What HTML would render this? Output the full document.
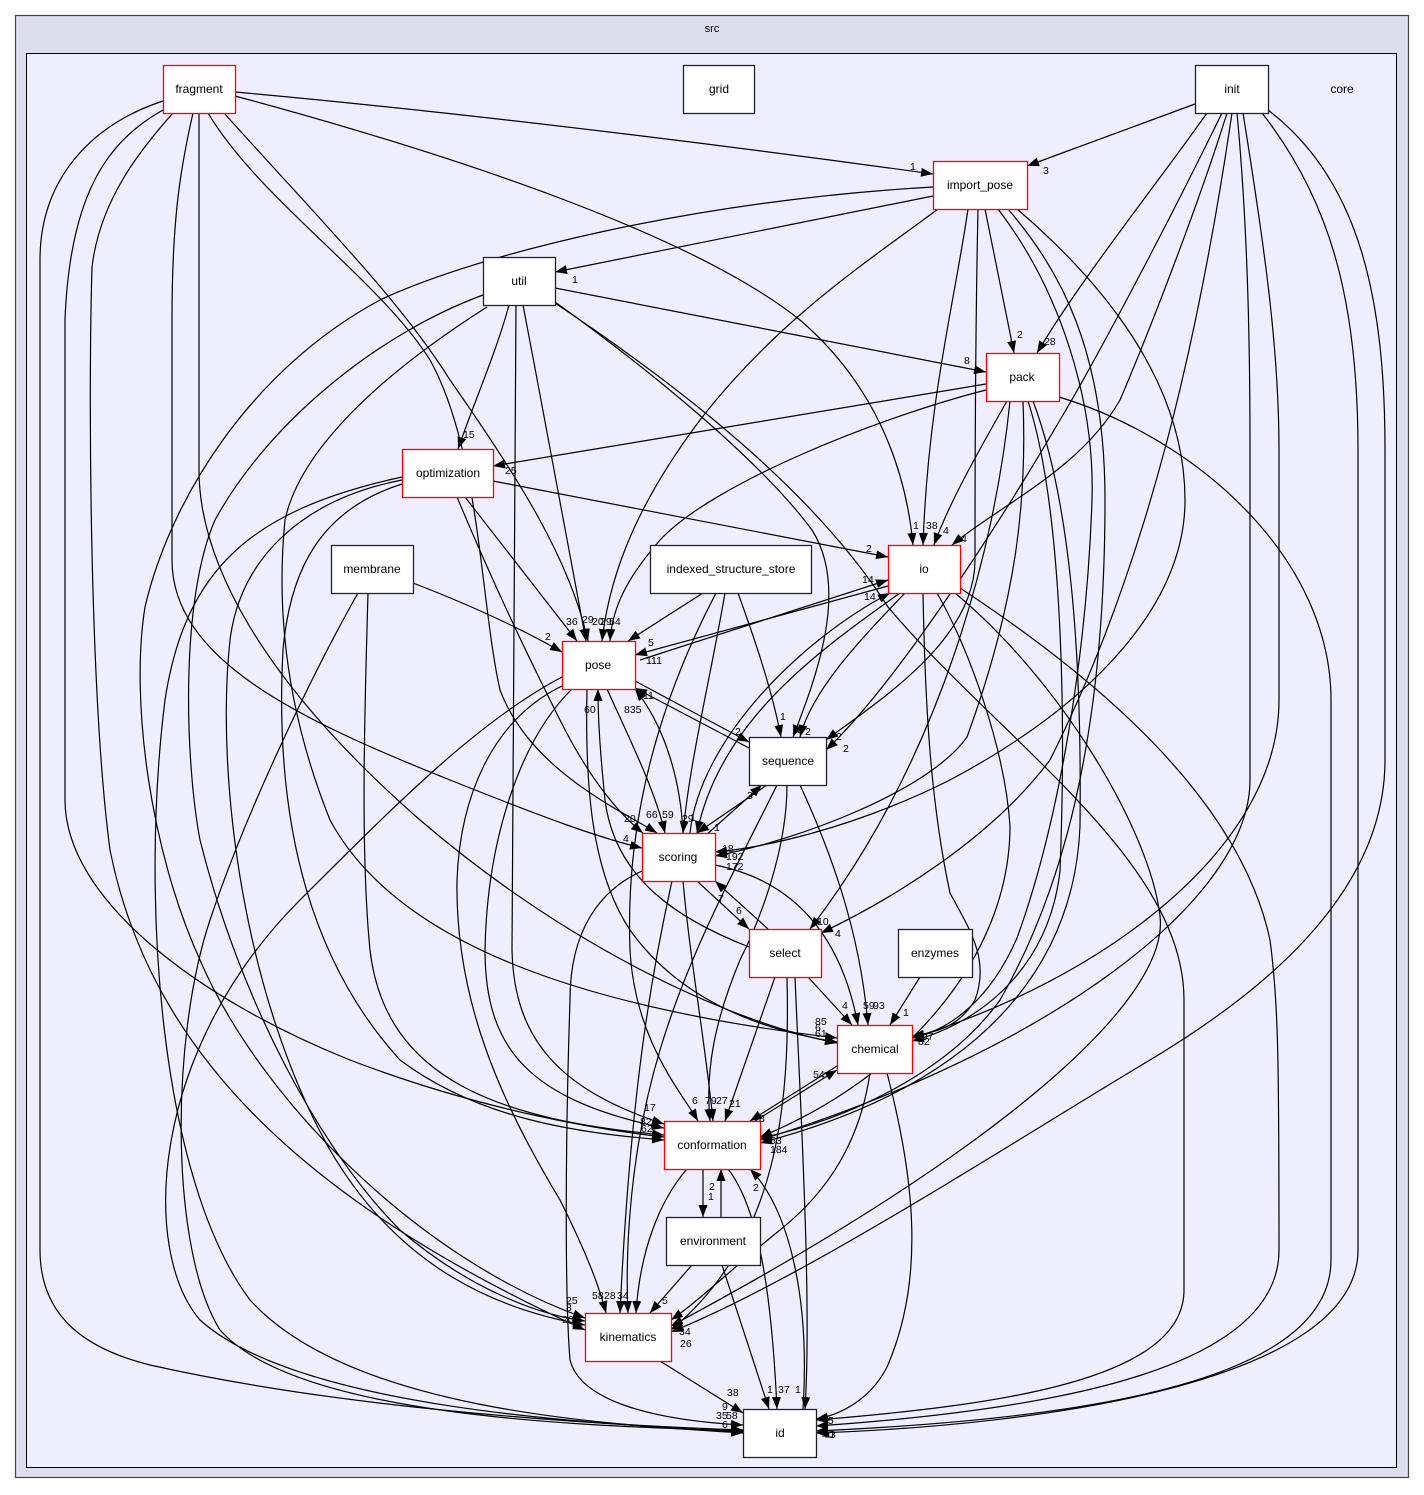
<!DOCTYPE html>
<html><head><meta charset="utf-8"><style>
html,body{margin:0;padding:0;background:#fff;}
svg{display:block;}
.e{fill:none;stroke:#000;stroke-width:1.2;marker-end:url(#a);}
.n{font-family:"Liberation Sans",Arial,sans-serif;font-size:12px;text-anchor:middle;}
.l{font-family:"Liberation Sans",Arial,sans-serif;font-size:10.5px;}
</style></head><body>
<svg width="1424" height="1495" viewBox="0 0 1424 1495" xmlns="http://www.w3.org/2000/svg">
<defs><marker id="a" markerWidth="13" markerHeight="11" refX="12" refY="5" orient="auto" markerUnits="userSpaceOnUse"><path d="M0,0.5 L12,5 L0,9.5 z" fill="#000"/></marker></defs>
<rect x="15.5" y="15.5" width="1393" height="1462" fill="#ddddee" stroke="#444" stroke-width="1.2"/>
<text class="n" x="712" y="32" style="font-size:11px">src</text>
<rect x="26.5" y="53.5" width="1370" height="1414" fill="#eeeeff" stroke="#000" stroke-width="1"/>
<text class="n" x="1342" y="93">core</text>
<g>
<path class="e" d="M235,92 C480,114 760,150 933,174"/>
<path class="e" d="M1195,104 L1027,166"/>
<path class="e" d="M933,196 L555,272"/>
<path class="e" d="M985,209 L1014,353"/>
<path class="e" d="M1207,113 C1160,180 1080,280 1037,353"/>
<path class="e" d="M555,288 L986,372"/>
<path class="e" d="M509,305 C497,350 475,400 458,449"/>
<path class="e" d="M986,384 L493,466"/>
<path class="e" d="M493,481 L888,557"/>
<path class="e" d="M235,96 C480,162 700,240 800,320 C870,380 905,460 913,545"/>
<path class="e" d="M968,209 C955,300 928,400 923,545"/>
<path class="e" d="M1007,401 C985,440 950,500 934,545"/>
<path class="e" d="M1227,113 C1200,200 1150,330 1120,400 C1080,470 1000,505 952,545"/>
<path class="e" d="M640,660 L888,580"/>
<path class="e" d="M888,586 L635,655"/>
<path class="e" d="M690,833 C700,740 800,640 890,593"/>
<path class="e" d="M905,593 C860,640 812,690 800,737"/>
<path class="e" d="M555,302 C650,370 760,460 812,530 C850,590 815,680 793,737"/>
<path class="e" d="M978,209 C976,300 975,420 975,560 C975,640 880,700 826,740"/>
<path class="e" d="M1222,113 C1160,240 1090,370 1060,420 C990,540 890,690 826,750"/>
<path class="e" d="M703,593 L628,641"/>
<path class="e" d="M738,593 C755,640 772,690 781,737"/>
<path class="e" d="M725,593 C710,680 690,760 683,833"/>
<path class="e" d="M716,593 C660,700 625,820 630,950 C635,1040 680,1090 698,1121"/>
<path class="e" d="M413,583 C470,605 520,628 562,652"/>
<path class="e" d="M358,593 C320,660 250,800 210,920 C170,1040 170,1250 220,1330 C300,1420 600,1426 743,1431"/>
<path class="e" d="M368,593 C365,700 360,850 370,950 C385,1080 500,1120 664,1135"/>
<path class="e" d="M465,497 L577,641"/>
<path class="e" d="M457,497 C500,600 540,680 560,720 C590,780 620,815 643,833"/>
<path class="e" d="M402,480 C300,500 240,560 230,640 C215,780 245,1000 330,1150 C400,1270 500,1310 585,1325"/>
<path class="e" d="M402,484 C320,510 290,570 283,650 C275,800 300,950 400,1060 C480,1120 580,1133 664,1140"/>
<path class="e" d="M402,477 C250,510 185,570 165,700 C140,900 160,1180 250,1300 C350,1410 600,1424 743,1433"/>
<path class="e" d="M523,305 C545,420 567,540 586,641"/>
<path class="e" d="M516,305 L512,950 C514,1040 560,1090 664,1124"/>
<path class="e" d="M483,295 C380,333 270,420 215,520 C180,600 185,760 200,840 C240,1000 320,1150 400,1230 C470,1290 540,1315 585,1321"/>
<path class="e" d="M487,307 C380,375 300,450 285,520 C275,620 290,720 330,820 C400,950 600,1010 837,1038"/>
<path class="e" d="M555,303 C700,400 820,500 888,607 C1000,740 1184,860 1184,1000 L1184,1290 C1184,1380 1000,1405 816,1420"/>
<path class="e" d="M938,209 C870,260 780,317 700,420 C640,500 610,570 602,641"/>
<path class="e" d="M933,187 C700,200 480,253 380,300 C250,370 170,500 145,607 C130,700 150,850 200,960 C260,1100 420,1260 585,1318"/>
<path class="e" d="M998,209 C1060,290 1095,400 1092,500 C1087,650 1060,820 1017,938 C990,1000 950,1030 912,1038"/>
<path class="e" d="M1008,209 C1060,270 1105,350 1105,500 C1105,700 1075,870 1000,1000 C950,1070 850,1120 760,1138"/>
<path class="e" d="M1017,209 C1100,280 1185,380 1185,500 C1185,600 1100,700 950,780 C850,830 760,848 715,852"/>
<path class="e" d="M986,390 C880,417 713,483 660,540 C625,580 612,610 610,641"/>
<path class="e" d="M1010,401 C995,550 940,760 810,929"/>
<path class="e" d="M1023,401 C1027,500 1017,600 967,737 C930,790 800,840 715,856"/>
<path class="e" d="M1028,401 C1060,500 1067,692 1060,871 C1050,960 990,1020 912,1041"/>
<path class="e" d="M1033,401 C1070,500 1082,650 1080,826 C1075,950 1000,1080 760,1143"/>
<path class="e" d="M1232,113 C1200,330 1150,560 1050,760 C990,840 890,900 821,933"/>
<path class="e" d="M224,113 C320,220 400,300 450,380 C520,480 570,560 588,641"/>
<path class="e" d="M193,113 C180,170 172,220 172,320 L172,560 C172,660 300,720 450,780 C550,820 600,838 642,848"/>
<path class="e" d="M208,113 C260,200 380,280 430,360 C480,450 480,600 500,690 C530,770 620,810 657,833"/>
<path class="e" d="M199,113 L199,470 C199,560 260,680 420,820 C560,940 720,1020 837,1043"/>
<path class="e" d="M173,113 C140,150 100,200 92,267 C88,400 90,700 110,850 C150,1050 300,1200 585,1330"/>
<path class="e" d="M163,110 C110,140 70,190 65,320 L65,800 C65,900 200,1000 350,1060 C480,1110 600,1130 664,1137"/>
<path class="e" d="M163,101 C90,125 40,180 40,260 L40,1250 C40,1320 90,1350 150,1365 C350,1410 600,1425 743,1430"/>
<path class="e" d="M635,681 L749,742"/>
<path class="e" d="M749,748 L635,688"/>
<path class="e" d="M607,689 C630,740 655,790 665,833"/>
<path class="e" d="M683,833 C680,770 660,720 635,689"/>
<path class="e" d="M749,947 C680,920 615,880 605,800 C600,750 598,720 598,689"/>
<path class="e" d="M587,689 C585,780 590,870 630,930 C680,1000 760,1030 837,1042"/>
<path class="e" d="M572,689 C520,740 487,840 485,950 C485,1050 530,1100 664,1128"/>
<path class="e" d="M564,685 C490,720 460,800 457,880 C455,1000 500,1100 560,1200 C590,1260 600,1290 606,1313"/>
<path class="e" d="M562,677 C480,720 400,800 300,900 C150,1050 140,1250 200,1320 C300,1410 600,1424 743,1432"/>
<path class="e" d="M767,785 L697,833"/>
<path class="e" d="M705,836 L762,785"/>
<path class="e" d="M800,785 C830,850 860,930 868,1025"/>
<path class="e" d="M715,865 C790,880 840,930 858,1025"/>
<path class="e" d="M787,785 C787,850 760,920 740,960 C715,1020 705,1070 710,1121"/>
<path class="e" d="M777,785 C740,860 690,950 660,1050 C630,1150 625,1250 628,1313"/>
<path class="e" d="M683,881 C690,960 705,1040 713,1121"/>
<path class="e" d="M672,881 C650,980 630,1100 620,1313"/>
<path class="e" d="M642,871 C600,890 570,930 570,1000 C565,1150 565,1300 570,1360 C580,1400 650,1420 743,1425"/>
<path class="e" d="M697,881 L749,929"/>
<path class="e" d="M768,929 L715,881"/>
<path class="e" d="M808,977 L852,1025"/>
<path class="e" d="M775,977 L725,1121"/>
<path class="e" d="M787,977 C790,1100 780,1240 671,1330"/>
<path class="e" d="M795,977 C800,1100 812,1300 805,1409"/>
<path class="e" d="M920,977 L890,1025"/>
<path class="e" d="M923,593 C925,700 930,800 950,893 C970,930 990,960 975,1000 C960,1025 940,1032 912,1036"/>
<path class="e" d="M937,593 C970,650 1005,750 1010,826 C1010,960 900,1080 760,1137"/>
<path class="e" d="M955,593 C1060,680 1150,830 1160,916 C1170,1000 1000,1150 671,1326"/>
<path class="e" d="M900,593 C820,650 720,720 697,833"/>
<path class="e" d="M837,1066 L750,1121"/>
<path class="e" d="M755,1121 L837,1070"/>
<path class="e" d="M870,1073 C860,1140 830,1190 780,1230 C730,1270 700,1300 671,1320"/>
<path class="e" d="M887,1073 C915,1180 925,1280 887,1367 C870,1400 840,1415 816,1419"/>
<path class="e" d="M703,1169 L703,1217"/>
<path class="e" d="M721,1217 L721,1169"/>
<path class="e" d="M687,1169 C660,1200 640,1250 636,1313"/>
<path class="e" d="M728,1169 C760,1210 772,1300 777,1409"/>
<path class="e" d="M692,1265 L650,1313"/>
<path class="e" d="M722,1265 L769,1409"/>
<path class="e" d="M803,1409 C810,1300 790,1210 750,1169"/>
<path class="e" d="M660,1361 L743,1413"/>
<path class="e" d="M1059,397 C1200,440 1331,560 1331,700 L1331,1260 C1331,1390 1050,1420 816,1431"/>
<path class="e" d="M1262,113 C1330,200 1358,300 1358,450 L1358,1250 C1358,1380 1050,1425 816,1433"/>
<path class="e" d="M1268,110 C1360,180 1385,300 1385,450 L1385,760 C1385,900 1250,1000 1150,1060 C1000,1150 800,1280 671,1332"/>
<path class="e" d="M1237,113 C1247,220 1250,330 1250,450 L1250,780 C1250,900 1050,1050 760,1140"/>
<path class="e" d="M960,588 C1100,680 1240,800 1270,940 C1278,1000 1279,1050 1279,1250 C1279,1370 1050,1410 816,1426"/>
<path class="e" d="M1243,113 C1265,250 1279,350 1279,450 L1279,700 C1279,850 1100,980 912,1038"/>
</g>
<g fill="#fff" stroke-width="1.3">
<rect x="163.5" y="65.5" width="72" height="48" stroke="#ff0000"/>
<rect x="683.5" y="65.5" width="71" height="48" stroke="#222"/>
<rect x="1195.5" y="65.5" width="73" height="48" stroke="#222"/>
<rect x="933.5" y="161.5" width="94" height="48" stroke="#ff0000"/>
<rect x="483.5" y="257.5" width="72" height="48" stroke="#222"/>
<rect x="986.5" y="353.5" width="73" height="48" stroke="#ff0000"/>
<rect x="402.5" y="449.5" width="91" height="48" stroke="#ff0000"/>
<rect x="331.5" y="545.5" width="82" height="48" stroke="#222"/>
<rect x="650.5" y="545.5" width="161" height="48" stroke="#222"/>
<rect x="888.5" y="545.5" width="72" height="48" stroke="#ff0000"/>
<rect x="562.5" y="641.5" width="73" height="48" stroke="#ff0000"/>
<rect x="749.5" y="737.5" width="77" height="48" stroke="#222"/>
<rect x="642.5" y="833.5" width="73" height="48" stroke="#ff0000"/>
<rect x="749.5" y="929.5" width="72" height="48" stroke="#ff0000"/>
<rect x="898.5" y="929.5" width="74" height="48" stroke="#222"/>
<rect x="837.5" y="1025.5" width="75" height="48" stroke="#ff0000"/>
<rect x="664.5" y="1121.5" width="96" height="48" stroke="#ff0000"/>
<rect x="666.5" y="1217.5" width="94" height="48" stroke="#222"/>
<rect x="585.5" y="1313.5" width="86" height="48" stroke="#ff0000"/>
<rect x="743.5" y="1409.5" width="73" height="48" stroke="#222"/>
</g>
<g class="n">
<text x="199" y="93">fragment</text>
<text x="719" y="93">grid</text>
<text x="1232" y="93">init</text>
<text x="980" y="189">import_pose</text>
<text x="519" y="285">util</text>
<text x="1022" y="381">pack</text>
<text x="448" y="477">optimization</text>
<text x="372" y="573">membrane</text>
<text x="731" y="573">indexed_structure_store</text>
<text x="924" y="573">io</text>
<text x="598" y="669">pose</text>
<text x="788" y="765">sequence</text>
<text x="678" y="861">scoring</text>
<text x="785" y="957">select</text>
<text x="935" y="957">enzymes</text>
<text x="875" y="1053">chemical</text>
<text x="712" y="1149">conformation</text>
<text x="713" y="1245">environment</text>
<text x="628" y="1341">kinematics</text>
<text x="780" y="1437">id</text>
</g>
<g class="l">
<text x="910" y="170">1</text><text x="1043" y="174">3</text>
<text x="572" y="283">1</text>
<text x="1017" y="338">2</text><text x="1044" y="345">28</text><text x="964" y="364">8</text>
<text x="463" y="438">15</text><text x="505" y="474">25</text>
<text x="866" y="552">2</text><text x="913" y="529">1</text><text x="926" y="529">38</text><text x="943" y="534">4</text><text x="961" y="542">4</text>
<text x="862" y="583">14</text><text x="864" y="600">14</text>
<text x="566" y="625">36</text><text x="582" y="623">29</text><text x="592" y="625">20</text><text x="600" y="625">29</text><text x="609" y="625">54</text>
<text x="545" y="640">2</text><text x="648" y="646">5</text><text x="646" y="664">111</text>
<text x="643" y="699">11</text><text x="584" y="713">60</text><text x="624" y="713">835</text>
<text x="735" y="735">2</text><text x="780" y="720">1</text><text x="797" y="733">2</text><text x="805" y="735">2</text><text x="836" y="740">2</text><text x="843" y="752">2</text><text x="747" y="799">3</text>
<text x="624" y="822">20</text><text x="646" y="818">66</text><text x="662" y="818">59</text><text x="682" y="822">29</text><text x="690" y="821">1</text><text x="714" y="831">1</text><text x="623" y="842">4</text>
<text x="722" y="852">18</text><text x="726" y="860">192</text><text x="726" y="870">172</text>
<text x="718" y="902">7</text><text x="736" y="914">6</text>
<text x="817" y="925">10</text><text x="835" y="937">4</text>
<text x="842" y="1009">4</text><text x="863" y="1009">59</text><text x="873" y="1009">93</text><text x="903" y="1016">1</text>
<text x="815" y="1025">85</text><text x="815" y="1037">61</text><text x="815" y="1031">6</text>
<text x="916" y="1040">697</text><text x="918" y="1045">82</text>
<text x="813" y="1078">54</text>
<text x="644" y="1111">17</text><text x="640" y="1125">82</text><text x="641" y="1132">62</text>
<text x="692" y="1104">6</text><text x="705" y="1104">79</text><text x="716" y="1104">27</text><text x="729" y="1107">21</text>
<text x="759" y="1122">8</text><text x="770" y="1144">53</text><text x="770" y="1153">184</text>
<text x="709" y="1190">2</text><text x="708" y="1200">1</text><text x="753" y="1191">2</text>
<text x="566" y="1304">25</text><text x="566" y="1311">8</text><text x="562" y="1323">20</text>
<text x="592" y="1299">58</text><text x="604" y="1299">28</text><text x="617" y="1299">34</text><text x="662" y="1304">5</text>
<text x="679" y="1335">34</text><text x="680" y="1347">26</text>
<text x="727" y="1396">38</text><text x="767" y="1393">1</text><text x="778" y="1393">37</text><text x="795" y="1393">1</text>
<text x="722" y="1410">9</text><text x="716" y="1419">35</text><text x="726" y="1419">58</text><text x="722" y="1428">6</text>
<text x="822" y="1424">15</text><text x="822" y="1438">40</text><text x="824" y="1438">43</text>
</g>
</svg>
</body></html>
